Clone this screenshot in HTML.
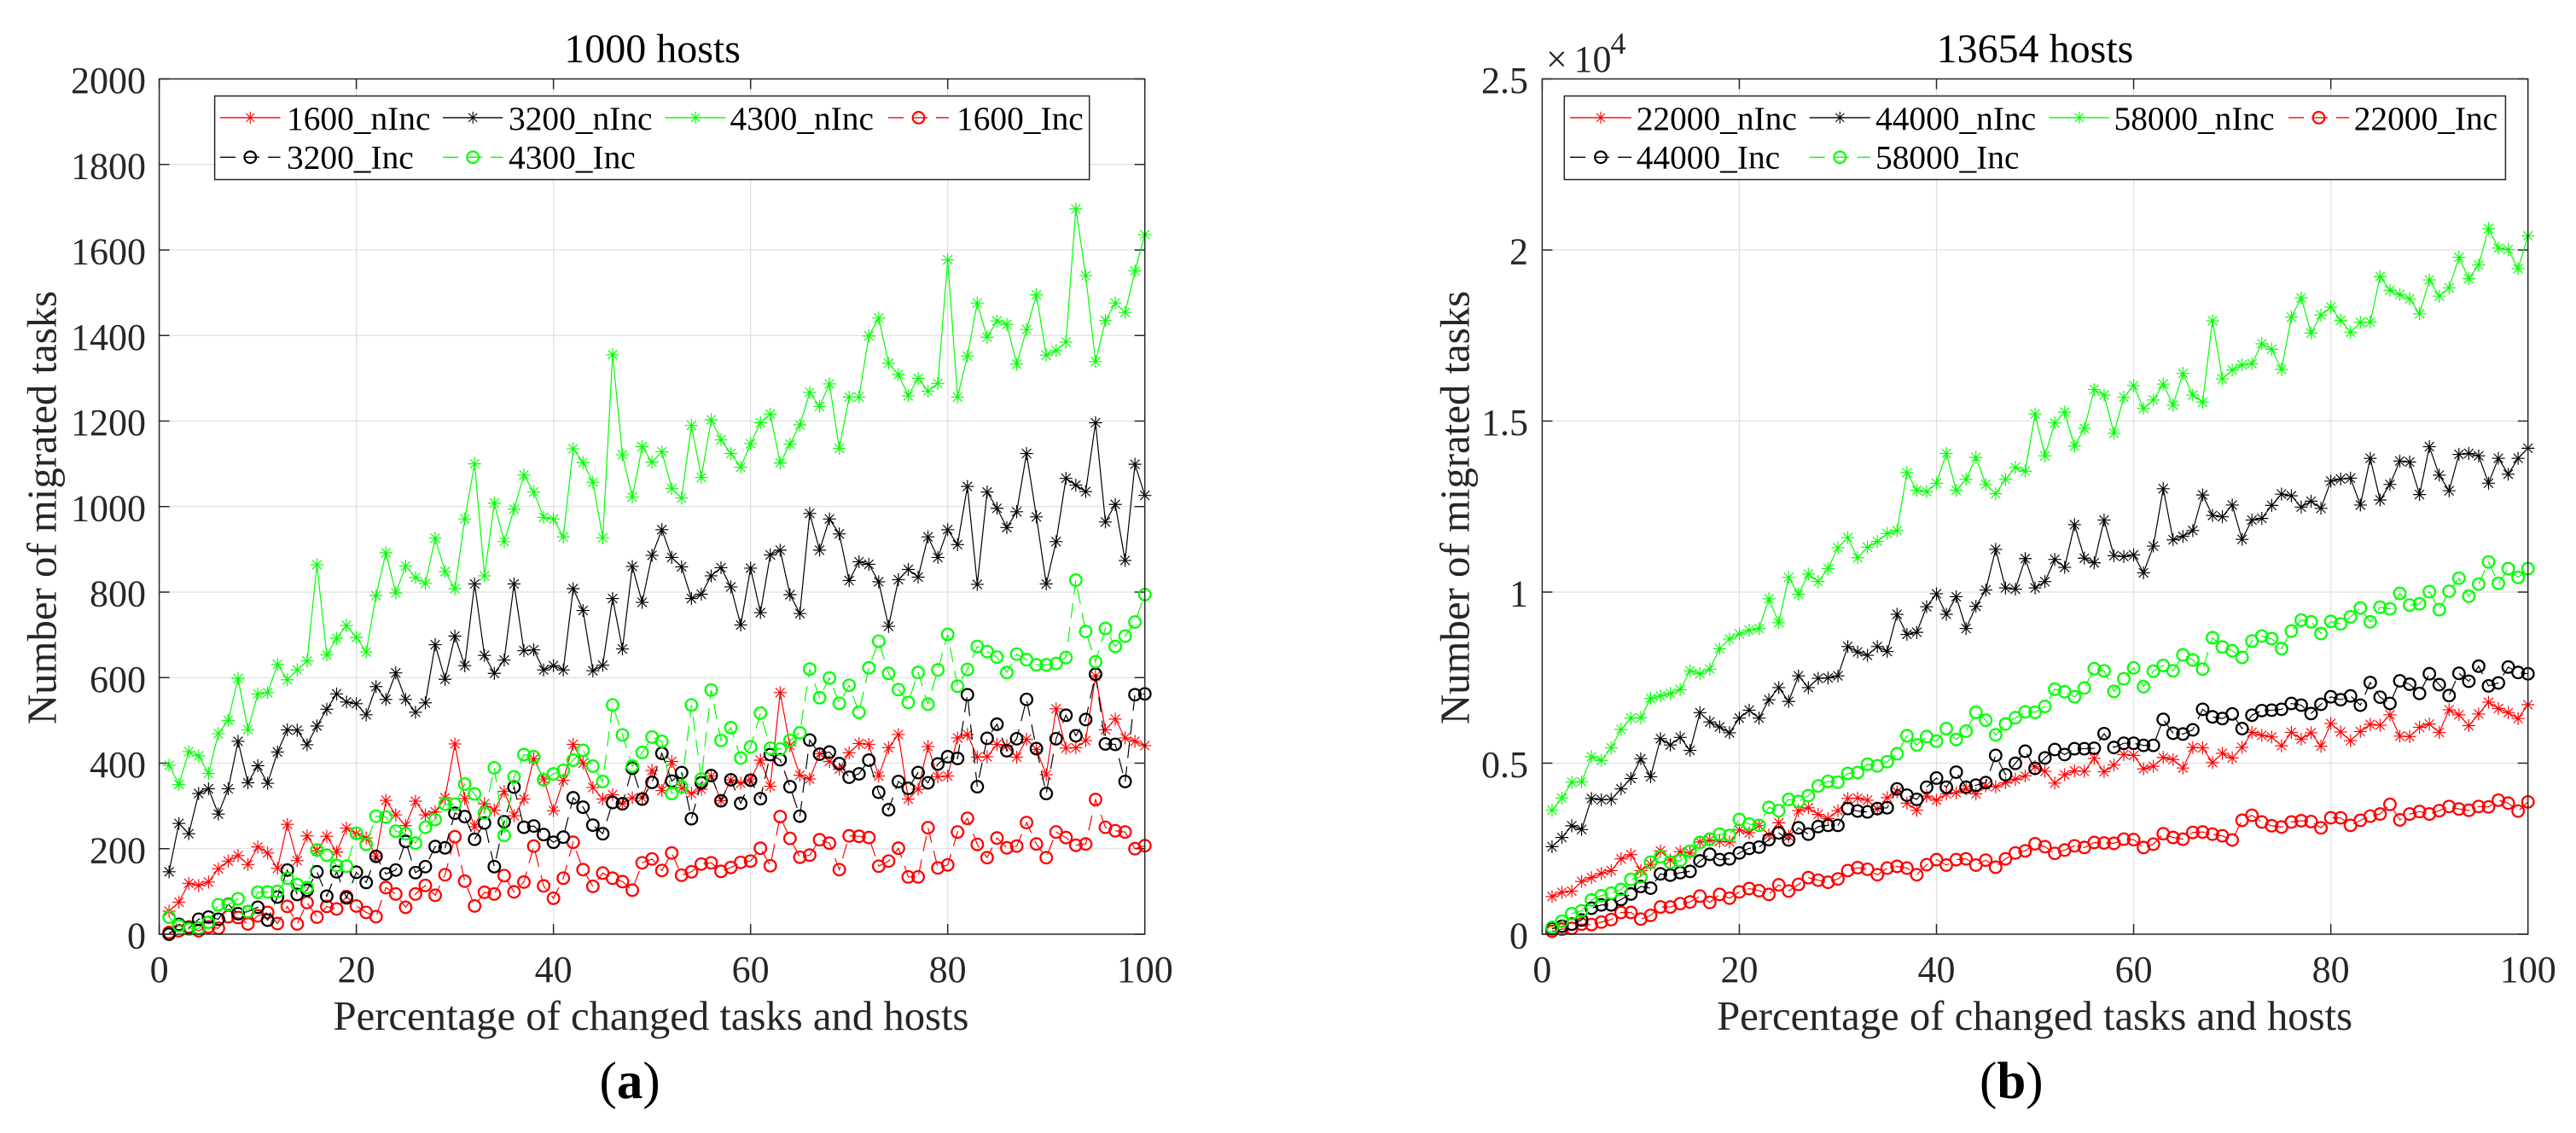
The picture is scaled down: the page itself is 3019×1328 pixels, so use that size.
<!DOCTYPE html>
<html lang="en">
<head>
<meta charset="utf-8">
<title>Number of migrated tasks</title>
<style>
html,body{margin:0;padding:0;background:#fff;width:3019px;height:1328px;overflow:hidden}
svg{display:block}
text{font-family:"Liberation Serif","Times New Roman",serif}
</style>
</head>
<body>
<svg id="figure" xmlns="http://www.w3.org/2000/svg" width="3019" height="1328" viewBox="0 0 3019 1328">
<rect x="0" y="0" width="3019" height="1328" fill="#ffffff"/>
<text x="702.5" y="1287" font-size="61" fill="#000">(<tspan font-weight="bold">a</tspan>)</text>
<text x="2320" y="1287" font-size="61" fill="#000">(<tspan font-weight="bold">b</tspan>)</text>
<g fill="#262626">
<text x="1812" y="84" font-size="44">×</text>
<text x="1844.5" y="84" font-size="44">10</text>
<text x="1887.5" y="63" font-size="36">4</text>
</g>
</svg>
<script>
const percentages = [1,2,3,4,5,6,7,8,9,10,11,12,13,14,15,16,17,18,19,20,21,22,23,24,25,26,27,28,29,30,31,32,33,34,35,36,37,38,39,40,41,42,43,44,45,46,47,48,49,50,51,52,53,54,55,56,57,58,59,60,61,62,63,64,65,66,67,68,69,70,71,72,73,74,75,76,77,78,79,80,81,82,83,84,85,86,87,88,89,90,91,92,93,94,95,96,97,98,99,100];

const xTickLabels = [0,20,40,60,80,100];
const yTickValuesA = [0,200,400,600,800,1000,1200,1400,1600,1800,2000];
const yTickLabelsA = ['0','200','400','600','800','1000','1200','1400','1600','1800','2000'];
const yTickValuesB = [0,5000,10000,15000,20000,25000];
const yTickLabelsB = ['0','0.5','1','1.5','2','2.5'];

const labelsA = ['1600_nInc','3200_nInc','4300_nInc','1600_Inc','3200_Inc','4300_Inc'];
const labelsB = ['22000_nInc','44000_nInc','58000_nInc','22000_Inc','44000_Inc','58000_Inc'];

const a1600nInc = [54,75,119,114,122,153,171,184,163,204,190,154,257,172,230,195,229,192,248,235,225,183,313,279,254,311,279,286,319,445,317,251,305,290,334,277,316,410,363,289,360,444,400,343,316,326,305,319,319,383,336,404,342,329,339,370,312,361,353,363,407,346,565,441,372,363,422,404,386,424,446,444,370,436,467,316,339,439,368,370,459,467,414,415,444,441,414,456,432,373,527,435,436,453,604,478,503,459,451,441];
const a3200nInc = [146,259,235,329,340,281,340,451,354,394,353,426,478,477,443,487,526,562,543,539,513,579,549,611,549,519,541,677,596,697,628,819,652,610,641,819,663,665,618,628,618,808,757,616,629,785,667,860,776,886,946,881,859,785,795,838,857,812,723,856,752,887,898,794,750,984,898,971,936,827,871,865,824,720,829,853,835,929,881,946,911,1047,818,1034,996,951,988,1124,976,819,918,1066,1050,1035,1196,964,1005,874,1099,1026];
const a4300nInc = [395,350,427,417,376,469,500,598,478,562,565,631,595,618,639,864,653,692,722,694,660,792,892,798,861,834,820,926,848,808,971,1100,838,1008,918,994,1074,1034,975,971,929,1135,1103,1057,927,1355,1121,1022,1140,1104,1128,1042,1020,1190,1068,1203,1156,1124,1092,1147,1196,1216,1102,1146,1191,1267,1234,1287,1136,1256,1256,1399,1441,1335,1309,1259,1300,1270,1288,1577,1256,1352,1476,1396,1434,1426,1333,1414,1495,1354,1365,1385,1696,1540,1339,1435,1476,1454,1551,1636];
const a1600Inc = [4,8,17,8,17,14,41,39,24,43,51,25,65,24,74,40,65,59,88,66,51,41,109,94,63,94,114,91,139,228,124,66,98,94,137,99,122,206,113,84,131,215,151,112,143,131,123,103,167,176,149,190,138,146,164,167,147,156,168,171,201,160,275,224,180,185,221,213,151,230,229,226,159,171,201,134,134,249,155,162,239,271,210,179,225,202,206,261,211,179,239,226,208,211,315,250,242,239,200,207];
const a3200Inc = [0,23,14,35,40,35,70,48,53,63,33,87,150,93,103,146,89,146,85,145,121,182,141,150,217,144,158,205,202,283,275,222,260,158,263,344,250,253,233,215,227,319,297,255,235,308,305,388,316,355,423,358,378,270,354,371,312,361,306,360,317,420,408,345,276,454,421,426,399,367,375,407,332,291,357,341,378,354,398,415,411,560,345,458,491,429,457,549,434,329,457,512,464,502,608,445,444,357,560,562];
const a4300Inc = [40,20,12,14,28,69,69,83,53,98,99,100,131,116,109,197,185,161,159,236,210,276,274,241,235,213,250,268,304,304,351,328,283,389,231,368,420,415,361,375,383,407,430,393,357,536,466,393,425,461,451,329,345,536,363,571,453,483,412,438,517,435,433,453,471,620,553,599,540,582,519,623,685,610,572,542,612,538,618,701,580,619,673,661,648,612,655,642,630,630,633,647,828,708,637,715,673,697,730,794];

const b22000nInc = [1102,1224,1261,1542,1652,1775,1860,2203,2326,1860,2044,2436,2166,2411,2375,2693,2754,2717,2693,3048,2962,3182,2901,3256,2864,3611,3696,3501,3378,3611,3966,3978,3917,3660,3990,4162,3831,3623,4039,3917,4100,4137,4247,4100,4333,4308,4431,4529,4627,4896,4761,4419,4663,4774,4761,5141,4749,4945,5251,5226,4835,4908,5165,5104,4859,5459,5447,5018,5288,5153,5459,5900,5814,5765,5508,5900,5704,5887,5496,6157,5912,5655,5924,6132,6108,6414,5790,5777,6047,6144,5900,6561,6414,6096,6438,6781,6597,6475,6304,6708];
const b44000nInc = [2558,2827,3170,3060,3966,3929,3941,4247,4553,5129,4602,5716,5532,5753,5373,6475,6206,6059,5887,6316,6548,6316,6854,7209,6805,7552,7209,7479,7491,7552,8409,8250,8152,8409,8262,9351,8764,8825,9572,9951,9351,9865,8935,9584,10061,11248,10122,10086,10979,10122,10306,10955,10722,11971,10991,10857,12105,11065,11040,11089,10563,11346,13023,11530,11628,11799,12840,12240,12203,12546,11542,12105,12154,12534,12864,12815,12485,12656,12448,13244,13305,13330,12546,13911,12693,13146,13830,13803,12852,14250,13419,12962,14027,14053,13982,13183,13911,13446,13911,14205];
const b58000nInc = [3623,3978,4443,4455,5190,5080,5447,5985,6316,6328,6891,6965,7038,7148,7699,7613,7748,8348,8629,8776,8886,8935,9804,9107,10428,9939,10526,10306,10686,11298,11591,11004,11310,11481,11714,11799,13491,12974,12938,13182,14053,12974,13300,13937,13146,12876,13300,13643,13535,15205,13982,14946,15259,14268,14786,15920,15759,14643,15697,16036,15366,15616,16080,15464,16393,15759,15554,17929,16232,16491,16643,16679,17259,17098,16509,18036,18599,17572,18099,18331,17938,17599,17884,17893,19224,18822,18697,18572,18134,19126,18652,18893,19786,19161,19563,20626,20054,20010,19456,20412];
const b22000Inc = [86,147,171,294,282,355,428,636,636,441,551,796,796,894,942,1114,930,1163,1053,1236,1334,1273,1163,1444,1261,1457,1652,1579,1518,1616,1860,1946,1897,1738,1934,1983,1934,1738,2032,2179,2020,2179,2203,2020,2166,1958,2203,2375,2436,2644,2558,2362,2460,2583,2534,2681,2668,2656,2778,2766,2534,2632,2938,2827,2778,2974,2987,2925,2876,2754,3329,3476,3280,3170,3133,3280,3317,3293,3109,3403,3403,3182,3329,3452,3513,3794,3342,3513,3586,3513,3611,3733,3660,3623,3733,3721,3917,3831,3599,3868];
const b44000Inc = [159,233,294,416,759,857,857,1016,1175,1395,1346,1763,1726,1799,1836,2142,2338,2179,2203,2375,2509,2546,2766,2962,2754,3109,2925,3146,3182,3182,3672,3599,3574,3672,3696,4247,4064,3941,4296,4565,4296,4737,4296,4357,4431,5226,4663,4994,5349,4847,5153,5398,5251,5422,5422,5435,5863,5459,5581,5581,5520,5520,6279,5875,5851,5973,6573,6353,6304,6438,6010,6402,6536,6548,6573,6744,6695,6450,6720,6940,6854,6965,6695,7356,6928,6744,7405,7307,7038,7613,7295,6977,7626,7393,7834,7258,7344,7809,7650,7613];
const b58000Inc = [196,379,600,685,1004,1126,1200,1310,1603,1677,2105,2264,2105,2154,2424,2681,2778,2925,2889,3354,3219,3182,3709,3611,3941,3880,4051,4333,4468,4443,4700,4725,4969,4920,5043,5275,5802,5532,5777,5643,6010,5692,5936,6487,6255,5826,6144,6328,6499,6487,6659,7160,7087,6940,7197,7760,7699,7099,7466,7785,7234,7687,7858,7699,8164,8017,7748,8666,8397,8286,8090,8568,8715,8641,8348,8862,9180,9131,8788,9143,9070,9278,9535,9131,9559,9510,9963,9621,9657,10012,9486,10024,10404,9878,10233,10881,10257,10686,10428,10686];

const seriesColors = ['#ff0000','#000000','#00ff00','#ff0000','#000000','#00ff00'];
const seriesKinds = ['star','star','star','circle','circle','circle'];

const NS = 'http://www.w3.org/2000/svg';
const figure = document.getElementById('figure');

function make(tag, parent, attrs) {
  const el = document.createElementNS(NS, tag);
  for (const k in attrs) el.setAttribute(k, attrs[k]);
  parent.appendChild(el);
  return el;
}

function starPath(cx, cy, h, d) {
  return 'M' + (cx - h) + ' ' + cy + 'H' + (cx + h) +
         'M' + cx + ' ' + (cy - h) + 'V' + (cy + h) +
         'M' + (cx - d) + ' ' + (cy - d) + 'L' + (cx + d) + ' ' + (cy + d) +
         'M' + (cx - d) + ' ' + (cy + d) + 'L' + (cx + d) + ' ' + (cy - d);
}

function drawChart(cfg) {
  const root = make('g', figure, {});
  
  

  const xScale = v => cfg.left + (v - 0) / (100 - 0) * (cfg.right - cfg.left);
  const yScale = v => cfg.bottom - (v - 0) / cfg.yMax * (cfg.bottom - cfg.top);

  const grid = make('g', root, {stroke: '#e0e0e0', 'stroke-width': 1.3, fill: 'none'});
  
  
  xTickLabels.forEach(v => {
    if (v === 0 || v === 100) return;
    const g = make('line', grid, {x1: xScale(v), x2: xScale(v), y1: cfg.top, y2: cfg.bottom});
    
    
  });
  cfg.yTicks.forEach(v => {
    if (v === 0 || v === cfg.yMax) return;
    const g = make('line', grid, {x1: cfg.left, x2: cfg.right, y1: yScale(v), y2: yScale(v)});
    
    
  });

  const ticks = make('g', root, {stroke: '#262626', 'stroke-width': 1.5, fill: 'none'});
  
  
  const tl = 12;
  xTickLabels.forEach(v => {
    const a = make('path', ticks, {d: 'M' + xScale(v) + ' ' + cfg.bottom + 'v' + (-tl) + 'M' + xScale(v) + ' ' + cfg.top + 'v' + tl});
    
    
  });
  cfg.yTicks.forEach(v => {
    const a = make('path', ticks, {d: 'M' + cfg.left + ' ' + yScale(v) + 'h' + tl + 'M' + cfg.right + ' ' + yScale(v) + 'h' + (-tl)});
    
    
  });

  cfg.series.forEach((values, i) => {
    const color = seriesColors[i];
    const kind = seriesKinds[i];
    const g = make('g', root, {fill: 'none', stroke: color});
    
    
    const pts = values.map((v, j) => xScale(percentages[j]).toFixed(2) + ',' + yScale(v).toFixed(2)).join(' ');
    const line = make('polyline', g, {points: pts, 'stroke-width': 1.2});
    if (kind === 'circle') line.setAttribute('stroke-dasharray', '18 10');
    
    
    values.forEach((v, j) => {
      const cx = xScale(percentages[j]);
      const cy = yScale(v);
      if (kind === 'star') {
        const m = make('path', g, {d: starPath(cx, cy, 7.6, 5.4), 'stroke-width': 1.15});
        
        
      } else {
        const m = make('circle', g, {cx: cx, cy: cy, r: 6.8, 'stroke-width': 2.3});
        
        
      }
    });
  });

  const box = make('rect', root, {x: cfg.left, y: cfg.top, width: cfg.right - cfg.left, height: cfg.bottom - cfg.top, fill: 'none', stroke: '#262626', 'stroke-width': 1.5});
  
  

  xTickLabels.forEach(v => {
    const t = make('text', root, {x: xScale(v), y: 1151, 'font-size': 44, fill: '#262626', 'text-anchor': 'middle'});
    t.textContent = String(v);
    
    
  });
  cfg.yTicks.forEach((v, i) => {
    const t = make('text', root, {x: cfg.yLabelRight, y: yScale(v) + 16.5, 'font-size': 44, fill: '#262626', 'text-anchor': 'end'});
    t.textContent = cfg.yLabels[i];
    
    
  });

  const title = make('text', root, {x: cfg.titleX, y: 73, 'font-size': 48, fill: '#000', 'text-anchor': 'middle'});
  title.textContent = cfg.title;
  
  

  const xt = make('text', root, {x: cfg.xLabelX, y: 1207, 'font-size': 48.7, fill: '#262626', 'text-anchor': 'middle'});
  xt.textContent = 'Percentage of changed tasks and hosts';
  
  

  const yt = make('text', root, {x: 0, y: 0, 'font-size': 48.8, fill: '#262626', 'text-anchor': 'middle', transform: 'translate(' + cfg.yTitleX + ' 595) rotate(-90)'});
  yt.textContent = 'Number of migrated tasks';
  
  

  const legend = make('g', root, {});
  
  
  const frame = make('rect', legend, {x: cfg.legend.left, y: 112.5, width: cfg.legend.right - cfg.legend.left, height: 98, fill: '#ffffff', stroke: '#262626', 'stroke-width': 1.5});
  
  
  const order = [[0, 0, 0], [1, 1, 0], [2, 2, 0], [3, 3, 0], [4, 0, 1], [5, 1, 1]];
  order.forEach(o => {
    const i = o[0];
    const col = cfg.legend.cols[o[1]];
    const rowY = o[2] === 0 ? 137.9 : 184.3;
    const baseY = o[2] === 0 ? 151.8 : 197.5;
    const entry = make('g', legend, {fill: 'none', stroke: seriesColors[i]});
    
    
    const mid = (col.a + col.b) / 2;
    const sw = make('line', entry, {x1: col.a, x2: col.b, y1: rowY, y2: rowY, 'stroke-width': 1.4});
    
    
    if (seriesKinds[i] === 'circle') {
      sw.setAttribute('stroke-dasharray', '18 10');
      const mk = make('circle', entry, {cx: mid, cy: rowY, r: 6.8, 'stroke-width': 2.2});
      
      
    } else {
      const mk = make('path', entry, {d: starPath(mid, rowY, 7, 5), 'stroke-width': 1.1});
      
      
    }
    const t = make('text', entry, {x: col.t, y: baseY, 'font-size': 39.4, fill: '#000', stroke: 'none'});
    t.textContent = cfg.labels[i];
    
    
  });
}

drawChart({
  name: 'chart-1000-hosts', title: '1000 hosts', titleX: 764.6, xLabelX: 763, yTitleX: 65.5, yLabelRight: 171,
  left: 186.6, right: 1341.7, top: 92.5, bottom: 1095, yMax: 2000,
  yTicks: yTickValuesA, yLabels: yTickLabelsA, labels: labelsA,
  series: [a1600nInc, a3200nInc, a4300nInc, a1600Inc, a3200Inc, a4300Inc],
  legend: {left: 251.6, right: 1276.7, cols: [{a: 258, b: 328.6, t: 336}, {a: 519, b: 589.4, t: 596}, {a: 779.4, b: 850.6, t: 855.5}, {a: 1041, b: 1112, t: 1121}]}
});

drawChart({
  name: 'chart-13654-hosts', title: '13654 hosts', titleX: 2385, xLabelX: 2384.6, yTitleX: 1721.7, yLabelRight: 1791,
  left: 1807.4, right: 2962.7, top: 92.5, bottom: 1095, yMax: 25000,
  yTicks: yTickValuesB, yLabels: yTickLabelsB, labels: labelsB,
  series: [b22000nInc, b44000nInc, b58000nInc, b22000Inc, b44000Inc, b58000Inc],
  legend: {left: 1833.3, right: 2936.4, cols: [{a: 1840, b: 1912, t: 1917.7}, {a: 2120.8, b: 2191.8, t: 2198}, {a: 2401.6, b: 2472, t: 2477.5}, {a: 2682, b: 2753, t: 2758.7}]}
});
</script>
</body>
</html>
